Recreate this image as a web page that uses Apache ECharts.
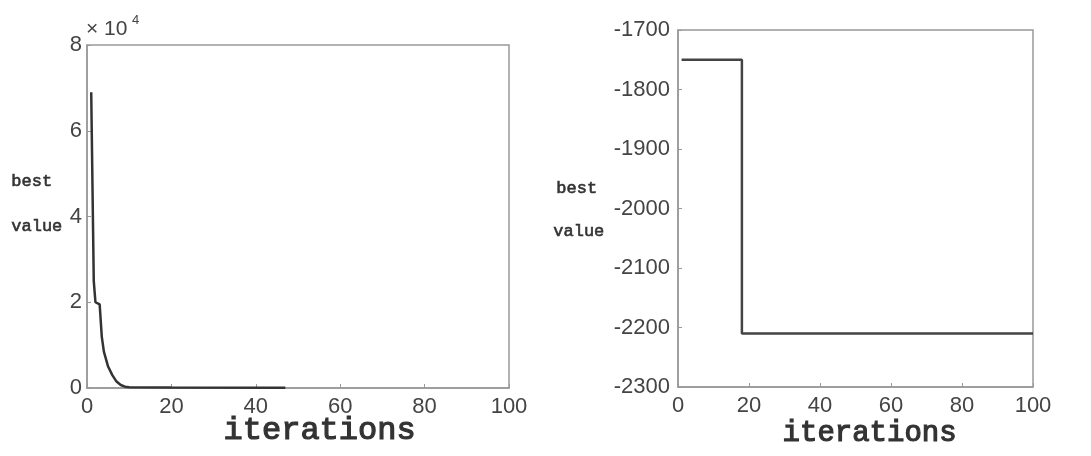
<!DOCTYPE html>
<html><head><meta charset="utf-8">
<script src="https://cdn.jsdelivr.net/npm/echarts@6/dist/echarts.min.js"></script>
<style>html,body{margin:0;padding:0;background:#fff}#c{width:1091px;height:456px}</style>
</head><body><div id="c"></div>
<script>
// Left panel: best value vs iterations
const leftIter = [1, 1.6, 2, 3, 3.5, 4, 5, 6, 7, 8, 9, 10, 20, 47];
const leftBest = [69000, 25000, 20000, 19500, 12000, 8500, 5000, 3000, 1500, 700, 300, 150, 100, 80];
// Right panel
const rightIter = [1, 18, 18, 100];
const rightBest = [-1750, -1750, -2210, -2210];
const xTicks = [0, 20, 40, 60, 80, 100];
const leftYTicks = [0, 2, 4, 6, 8];
const rightYTicks = [-2300, -2200, -2100, -2000, -1900, -1800, -1700];

const chart = echarts.init(document.getElementById('c'));
const labelStyle = {color: '#444', fontSize: 22, fontFamily: 'Liberation Sans, Arial, sans-serif'};
const axisLineStyle = {lineStyle: {color: '#999', width: 1.5}};
function xAxis(gi) {
  return {type: 'value', gridIndex: gi, min: xTicks[0], max: xTicks[xTicks.length - 1], interval: 20,
    axisLine: axisLineStyle, axisTick: {inside: true, length: 4, lineStyle: {color: '#999'}},
    splitLine: {show: false}, axisLabel: Object.assign({margin: 8, formatter: v => String(v)}, labelStyle)};
}
const titleFont = {fontFamily: 'Liberation Mono, monospace', fontWeight: 'normal', fill: '#333', stroke: '#333', lineWidth: 1.2};
const sideFont = {fontFamily: 'Liberation Mono, monospace', fontSize: 17, fill: '#333', stroke: '#333', lineWidth: 0.6};
chart.setOption({
  animation: false,
  grid: [
    {left: 87, right: 582, top: 45, bottom: 68, show: true, borderColor: '#999', borderWidth: 1.5},
    {left: 678, right: 58, top: 30, bottom: 69, show: true, borderColor: '#999', borderWidth: 1.5}
  ],
  xAxis: [xAxis(0), xAxis(1)],
  yAxis: [
    {type: 'value', gridIndex: 0, min: 0, max: leftYTicks[leftYTicks.length - 1] * 10000, interval: 20000,
      axisLine: Object.assign({show: true}, axisLineStyle),
      axisTick: {show: true, inside: true, length: 4, lineStyle: {color: '#999'}},
      splitLine: {show: false},
      axisLabel: Object.assign({margin: 5, formatter: v => String(v / 10000)}, labelStyle)},
    {type: 'value', gridIndex: 1, min: rightYTicks[0], max: rightYTicks[rightYTicks.length - 1], interval: 100,
      axisLine: Object.assign({show: true}, axisLineStyle),
      axisTick: {show: true, inside: true, length: 4, lineStyle: {color: '#999'}},
      splitLine: {show: false},
      axisLabel: Object.assign({margin: 8, formatter: v => String(v)}, labelStyle)}
  ],
  series: [
    {type: 'line', xAxisIndex: 0, yAxisIndex: 0, symbol: 'none', smooth: false,
      lineStyle: {color: '#333', width: 2.5},
      data: leftIter.map((x, i) => [x, leftBest[i]])},
    {type: 'line', xAxisIndex: 1, yAxisIndex: 1, symbol: 'none',
      lineStyle: {color: '#444', width: 2.5},
      data: rightIter.map((x, i) => [x, rightBest[i]])}
  ],
  graphic: [
    {type: 'text', left: 86, top: 19, style: {text: '× 10', fontSize: 21, fill: '#444', fontFamily: 'Liberation Sans, Arial, sans-serif'}},
    {type: 'text', left: 132, top: 14, style: {text: '4', fontSize: 13, fill: '#444', fontFamily: 'Liberation Sans, Arial, sans-serif'}},
    {type: 'text', left: 223, top: 414, style: Object.assign({text: 'iterations', fontSize: 32}, titleFont)},
    {type: 'text', left: 782, top: 418, style: Object.assign({text: 'iterations', fontSize: 29}, titleFont)},
    {type: 'text', left: 11, top: 173, style: Object.assign({text: 'best'}, sideFont)},
    {type: 'text', left: 11, top: 218, style: Object.assign({text: 'value'}, sideFont)},
    {type: 'text', left: 556, top: 180, style: Object.assign({text: 'best'}, sideFont)},
    {type: 'text', left: 553, top: 223, style: Object.assign({text: 'value'}, sideFont)}
  ]
});
</script></body></html>
